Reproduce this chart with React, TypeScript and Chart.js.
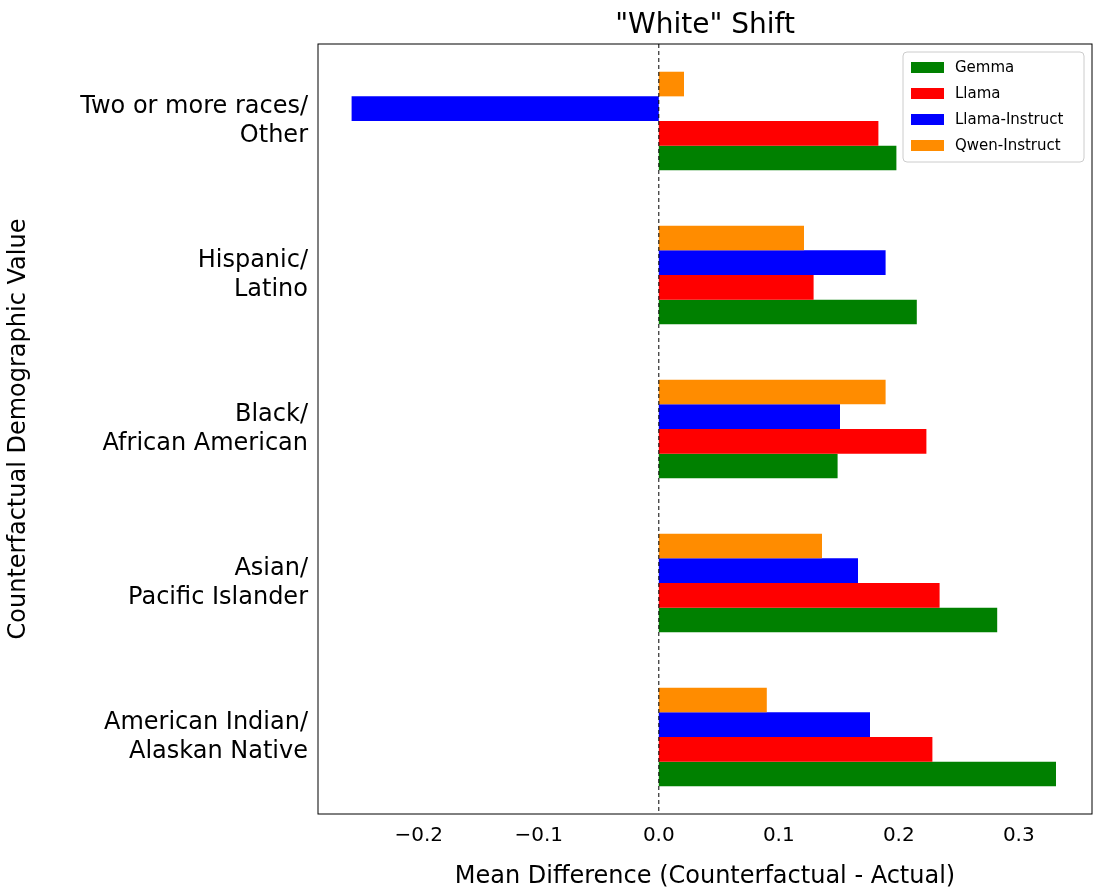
import React, { useRef, useEffect } from 'react';
import { Chart, registerables } from 'chart.js';

Chart.register(...registerables);

const categories = [
  ['Two or more races/', 'Other'],
  ['Hispanic/', 'Latino'],
  ['Black/', 'African American'],
  ['Asian/', 'Pacific Islander'],
  ['American Indian/', 'Alaskan Native'],
];
const gemma = [0.198, 0.215, 0.149, 0.282, 0.331];
const llama = [0.183, 0.129, 0.223, 0.234, 0.228];
const llamaInstruct = [-0.256, 0.189, 0.151, 0.166, 0.176];
const qwenInstruct = [0.021, 0.121, 0.189, 0.136, 0.09];
const xTicks = [-0.2, -0.1, 0.0, 0.1, 0.2, 0.3];

const FONT = 'DejaVu Sans';

// legend box, zero line, frame and title drawn by hand like matplotlib
const extras = {
  id: 'extras',
  afterDatasetsDraw(chart: any) {
    const { ctx, chartArea: a, scales } = chart;
    const x0 = scales.x.getPixelForValue(0);
    ctx.save();
    ctx.strokeStyle = '#000';
    ctx.lineWidth = 1;
    ctx.setLineDash([4, 3]);
    ctx.beginPath();
    ctx.moveTo(x0, a.top);
    ctx.lineTo(x0, a.bottom);
    ctx.stroke();
    ctx.setLineDash([]);
    ctx.strokeRect(a.left, a.top, a.right - a.left, a.bottom - a.top);

    ctx.fillStyle = '#000';
    ctx.font = `28px ${FONT}`;
    ctx.textAlign = 'center';
    ctx.textBaseline = 'bottom';
    ctx.fillText('"White" Shift', (a.left + a.right) / 2, a.top - 4);

    const items = [
      ['Gemma', 'green'],
      ['Llama', 'red'],
      ['Llama-Instruct', 'blue'],
      ['Qwen-Instruct', 'darkorange'],
    ];
    const bx = 903, by = 52, bw = 181, bh = 110;
    ctx.fillStyle = 'rgba(255,255,255,0.85)';
    ctx.strokeStyle = '#ccc';
    ctx.beginPath();
    ctx.roundRect(bx, by, bw, bh, 4);
    ctx.fill();
    ctx.stroke();
    ctx.font = `15px ${FONT}`;
    ctx.textAlign = 'left';
    ctx.textBaseline = 'middle';
    items.forEach(([name, color], i) => {
      const y = by + 16 + i * 26;
      ctx.fillStyle = color;
      ctx.fillRect(bx + 8, y - 6, 33, 11);
      ctx.fillStyle = '#000';
      ctx.fillText(name, bx + 52, y);
    });
    ctx.restore();
  },
};

const App: React.FC = () => {
  const canvasRef = useRef<HTMLCanvasElement>(null);

  useEffect(() => {
    document.body.style.margin = '0';
    if (!canvasRef.current) return;
    const chart = new Chart(canvasRef.current, {
      type: 'bar',
      data: {
        labels: categories,
        datasets: [
          { label: 'Qwen-Instruct', data: qwenInstruct, backgroundColor: 'darkorange' },
          { label: 'Llama-Instruct', data: llamaInstruct, backgroundColor: 'blue' },
          { label: 'Llama', data: llama, backgroundColor: 'red' },
          { label: 'Gemma', data: gemma, backgroundColor: 'green' },
        ],
      },
      options: {
        indexAxis: 'y',
        responsive: false,
        animation: false,
        datasets: { bar: { barPercentage: 1, categoryPercentage: 0.64 } },
        layout: { padding: { top: 44, right: 9, left: 0, bottom: 0 } },
        plugins: { legend: { display: false }, tooltip: { enabled: false } },
        scales: {
          x: {
            type: 'linear',
            min: -0.284,
            max: 0.361,
            afterBuildTicks: (s: any) => {
              s.ticks = xTicks.map((v) => ({ value: v }));
            },
            afterFit: (s: any) => {
              s.height = 81;
            },
            grid: { display: false, drawTicks: true, tickLength: 6, tickColor: '#000' },
            border: { display: false },
            ticks: {
              color: '#000',
              font: { family: FONT, size: 20 },
              padding: 4,
              callback: (v: any) => (Number(v) < 0 ? '\u2212' : '') + Math.abs(Number(v)).toFixed(1),
            },
            title: {
              display: true,
              text: 'Mean Difference (Counterfactual - Actual)',
              color: '#000',
              font: { family: FONT, size: 24 },
              padding: { top: 2 },
            },
          },
          y: {
            afterFit: (s: any) => {
              s.width = 318;
            },
            grid: { display: false, drawTicks: true, tickLength: 6, tickColor: '#000', offset: false },
            border: { display: false },
            ticks: {
              color: '#000',
              font: { family: FONT, size: 24 },
              padding: 4,
            },
            title: {
              display: true,
              text: 'Counterfactual Demographic Value',
              color: '#000',
              font: { family: FONT, size: 24 },
            },
          },
        },
      },
      plugins: [extras],
    });
    return () => chart.destroy();
  }, []);

  return <canvas ref={canvasRef} width={1101} height={895} style={{ display: 'block' }} />;
};

export default App;
